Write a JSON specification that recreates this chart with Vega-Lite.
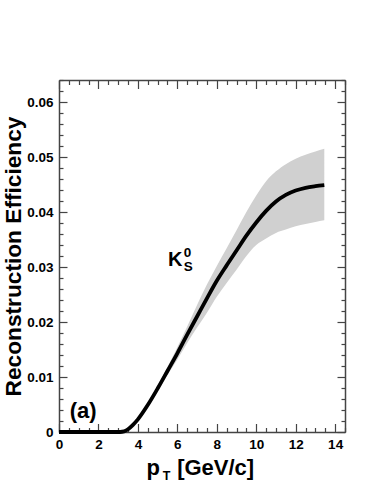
{
  "$schema": "https://vega.github.io/schema/vega-lite/v6.json",
  "autosize": "none",
  "width": 286,
  "height": 352,
  "padding": {"left": 59, "top": 80, "right": 29, "bottom": 52},
  "background": "white",
  "config": {
    "view": {"stroke": null},
    "font": "Liberation Sans",
    "axis": {"grid": false, "labelFont": "Liberation Sans", "titleFont": "Liberation Sans", "domainColor": "#444", "tickColor": "#444", "domainWidth": 1.5, "tickWidth": 1.2,
      "labelFontSize": 13.5, "labelFontWeight": "bold", "labelColor": "black", "labelFlush": false, "labelOverlap": false,
      "titleFontSize": 22.7, "titleFontWeight": "bold", "titleColor": "black"}
  },
  "data": {"values": [
    {"pT": 0, "eff": 0, "lo": 0, "hi": 0},
    {"pT": 1, "eff": 0, "lo": 0, "hi": 0},
    {"pT": 2, "eff": 0, "lo": 0, "hi": 0},
    {"pT": 3.1, "eff": 0, "lo": 0, "hi": 0},
    {"pT": 3.3, "eff": 0.0001, "lo": 0.0001, "hi": 0.0001},
    {"pT": 3.5, "eff": 0.0005, "lo": 0.0005, "hi": 0.0005},
    {"pT": 3.75, "eff": 0.0013, "lo": 0.0013, "hi": 0.0013},
    {"pT": 4.0, "eff": 0.0023, "lo": 0.0022, "hi": 0.0024},
    {"pT": 4.5, "eff": 0.0049, "lo": 0.0047, "hi": 0.0051},
    {"pT": 5.0, "eff": 0.0079, "lo": 0.0075, "hi": 0.0083},
    {"pT": 5.5, "eff": 0.0111, "lo": 0.0104, "hi": 0.0118},
    {"pT": 6.0, "eff": 0.0143, "lo": 0.0132, "hi": 0.0154},
    {"pT": 6.5, "eff": 0.0177, "lo": 0.0162, "hi": 0.0192},
    {"pT": 7.0, "eff": 0.0210, "lo": 0.0190, "hi": 0.0231},
    {"pT": 7.5, "eff": 0.0243, "lo": 0.0217, "hi": 0.0268},
    {"pT": 8.0, "eff": 0.0275, "lo": 0.0246, "hi": 0.0302},
    {"pT": 8.5, "eff": 0.0303, "lo": 0.0271, "hi": 0.0334},
    {"pT": 9.0, "eff": 0.0330, "lo": 0.0295, "hi": 0.0367},
    {"pT": 9.5, "eff": 0.0357, "lo": 0.0320, "hi": 0.0400},
    {"pT": 10.0, "eff": 0.0381, "lo": 0.0340, "hi": 0.0430},
    {"pT": 10.5, "eff": 0.0402, "lo": 0.0352, "hi": 0.0456},
    {"pT": 11.0, "eff": 0.0419, "lo": 0.0362, "hi": 0.0474},
    {"pT": 11.5, "eff": 0.0431, "lo": 0.0368, "hi": 0.0487},
    {"pT": 12.0, "eff": 0.0439, "lo": 0.0374, "hi": 0.0497},
    {"pT": 12.5, "eff": 0.0444, "lo": 0.0378, "hi": 0.0504},
    {"pT": 13.0, "eff": 0.0447, "lo": 0.0382, "hi": 0.0510},
    {"pT": 13.45, "eff": 0.0449, "lo": 0.0385, "hi": 0.0515}
  ]},
  "resolve": {"axis": {"x": "independent", "y": "independent"}},
  "layer": [
    {
      "mark": {"type": "area", "color": "#d0d0d0", "interpolate": "monotone"},
      "encoding": {
        "x": {"field": "pT", "type": "quantitative", "scale": {"domain": [0, 14.5], "nice": false, "zero": false}, "axis": null},
        "y": {"field": "lo", "type": "quantitative", "scale": {"domain": [0, 0.064], "nice": false, "zero": false}, "axis": null},
        "y2": {"field": "hi"}
      }
    },
    {
      "mark": {"type": "line", "color": "black", "strokeWidth": 3.8, "interpolate": "monotone"},
      "encoding": {
        "x": {"field": "pT", "type": "quantitative", "scale": {"domain": [0, 14.5], "nice": false, "zero": false},
          "axis": {"orient": "bottom", "title": null, "domain": true,
            "values": [0,0.5,1,1.5,2,2.5,3,3.5,4,4.5,5,5.5,6,6.5,7,7.5,8,8.5,9,9.5,10,10.5,11,11.5,12,12.5,13,13.5,14,14.5],
            "tickSize": {"condition": {"test": "datum.value % 2 == 0", "value": -8.5}, "value": -4.5},
            "labelExpr": "datum.value % 2 == 0 ? format(datum.value, 'd') : ''", "labelPadding": 13.5}},
        "y": {"field": "eff", "type": "quantitative", "scale": {"domain": [0, 0.064], "nice": false, "zero": false},
          "axis": {"orient": "left", "title": "Reconstruction Efficiency", "domain": true,
            "values": [0,0.002,0.004,0.006,0.008,0.01,0.012,0.014,0.016,0.018,0.02,0.022,0.024,0.026,0.028,0.03,0.032,0.034,0.036,0.038,0.04,0.042,0.044,0.046,0.048,0.05,0.052,0.054,0.056,0.058,0.06,0.062,0.064],
            "tickSize": {"condition": {"test": "abs(round(datum.value * 500) % 5) < 0.01", "value": -8}, "value": -4},
            "labelExpr": "abs(round(datum.value * 500) % 5) < 0.01 ? (datum.value == 0 ? '0' : format(datum.value, '.2f')) : ''",
            "labelPadding": 14, "titlePadding": 1}}
      }
    },
    {
      "data": {"values": [{"pT": 0.54, "v": 0.0025, "t": "(a)"}]},
      "mark": {"type": "text", "align": "left", "baseline": "alphabetic", "fontSize": 22, "fontWeight": "bold", "color": "black"},
      "encoding": {
        "x": {"field": "pT", "type": "quantitative", "scale": {"domain": [0, 14.5], "nice": false, "zero": false},
          "axis": {"orient": "top", "labels": false, "title": null, "domain": true,
            "values": [0,0.5,1,1.5,2,2.5,3,3.5,4,4.5,5,5.5,6,6.5,7,7.5,8,8.5,9,9.5,10,10.5,11,11.5,12,12.5,13,13.5,14,14.5],
            "tickSize": {"condition": {"test": "datum.value % 2 == 0", "value": -8.5}, "value": -4.5}}},
        "y": {"field": "v", "type": "quantitative", "scale": {"domain": [0, 0.064], "nice": false, "zero": false},
          "axis": {"orient": "right", "labels": false, "title": null, "domain": true,
            "values": [0,0.002,0.004,0.006,0.008,0.01,0.012,0.014,0.016,0.018,0.02,0.022,0.024,0.026,0.028,0.03,0.032,0.034,0.036,0.038,0.04,0.042,0.044,0.046,0.048,0.05,0.052,0.054,0.056,0.058,0.06,0.062,0.064],
            "tickSize": {"condition": {"test": "abs(round(datum.value * 500) % 5) < 0.01", "value": -8}, "value": -4}}},
        "text": {"field": "t"}
      }
    },
    {
      "data": {"values": [{"pT": 5.52, "v": 0.0302, "t": "K"}]},
      "mark": {"type": "text", "align": "left", "baseline": "alphabetic", "fontSize": 20, "fontWeight": "bold", "color": "black"},
      "encoding": {
        "x": {"field": "pT", "type": "quantitative", "scale": {"domain": [0, 14.5], "nice": false, "zero": false}, "axis": null},
        "y": {"field": "v", "type": "quantitative", "scale": {"domain": [0, 0.064], "nice": false, "zero": false}, "axis": null},
        "text": {"field": "t"}
      }
    },
    {
      "data": {"values": [
        {"pT": 6.33, "v": 0.0318, "t": "0"},
        {"pT": 6.33, "v": 0.0292, "t": "S"}
      ]},
      "mark": {"type": "text", "align": "left", "baseline": "alphabetic", "fontSize": 13.5, "fontWeight": "bold", "color": "black"},
      "encoding": {
        "x": {"field": "pT", "type": "quantitative", "scale": {"domain": [0, 14.5], "nice": false, "zero": false}, "axis": null},
        "y": {"field": "v", "type": "quantitative", "scale": {"domain": [0, 0.064], "nice": false, "zero": false}, "axis": null},
        "text": {"field": "t"}
      }
    },
    {
      "data": {"values": [
        {"pT": 4.44, "v": -0.00782, "t": "p"},
        {"pT": 5.99, "v": -0.00782, "t": "[GeV/c]"}
      ]},
      "mark": {"type": "text", "align": "left", "baseline": "alphabetic", "fontSize": 22, "fontWeight": "bold", "color": "black"},
      "encoding": {
        "x": {"field": "pT", "type": "quantitative", "scale": {"domain": [0, 14.5], "nice": false, "zero": false}, "axis": null},
        "y": {"field": "v", "type": "quantitative", "scale": {"domain": [0, 0.064], "nice": false, "zero": false}, "axis": null},
        "text": {"field": "t"}
      }
    },
    {
      "data": {"values": [{"pT": 5.26, "v": -0.0088, "t": "T"}]},
      "mark": {"type": "text", "align": "left", "baseline": "alphabetic", "fontSize": 12.5, "fontWeight": "bold", "color": "black"},
      "encoding": {
        "x": {"field": "pT", "type": "quantitative", "scale": {"domain": [0, 14.5], "nice": false, "zero": false}, "axis": null},
        "y": {"field": "v", "type": "quantitative", "scale": {"domain": [0, 0.064], "nice": false, "zero": false}, "axis": null},
        "text": {"field": "t"}
      }
    }
  ]
}
